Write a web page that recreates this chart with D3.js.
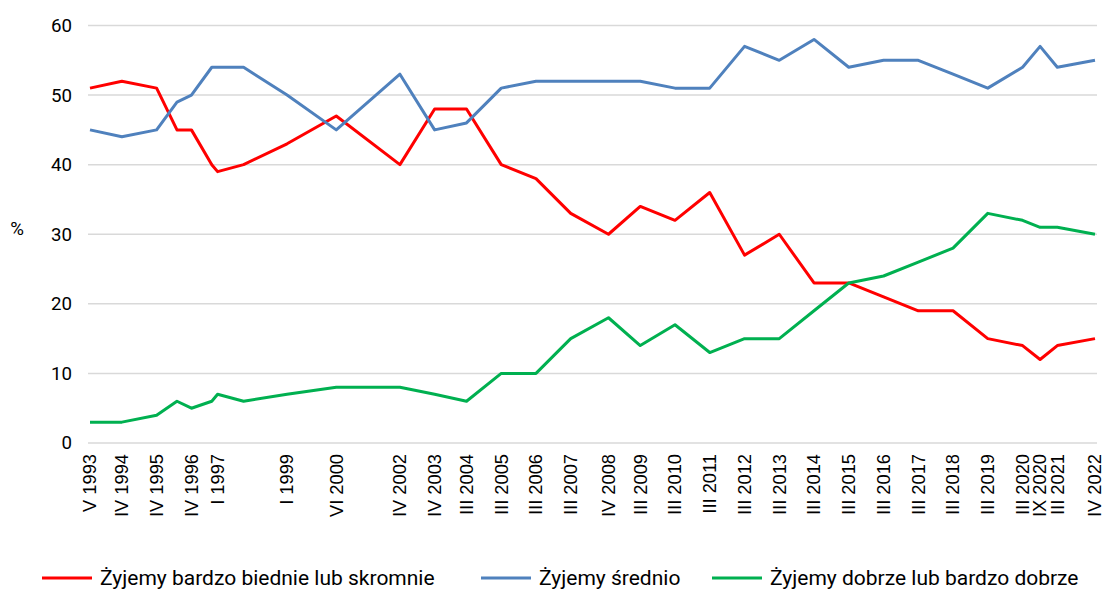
<!DOCTYPE html>
<html>
<head>
<meta charset="utf-8">
<script src="https://cdn.jsdelivr.net/npm/d3@7"></script>
<style>
  body { margin: 0; background: #fff; }
  svg { display: block; }
</style>
</head>
<body>
<svg id="chart" width="1104" height="591"></svg>
<script>
// survey dates (roman month + year), also used as axis labels
var surveys = ['V 1993', 'IV 1994', 'IV 1995', 'XI 1995', 'IV 1996', 'XI 1996', 'I 1997', 'X 1997', 'I 1999', 'VI 2000',
  'IV 2002', 'IV 2003', 'III 2004', 'III 2005', 'III 2006', 'III 2007', 'IV 2008', 'III 2009', 'III 2010', 'III 2011',
  'III 2012', 'III 2013', 'III 2014', 'III 2015', 'III 2016', 'III 2017', 'III 2018', 'III 2019', 'III 2020', 'IX 2020',
  'III 2021', 'IV 2022']
// surveys without a label on the axis
var unlabeled = ['XI 1995', 'XI 1996', 'X 1997']

var poor = [51, 52, 51, 45, 45, 40, 39, 40, 43, 47, 40, 48, 48, 40, 38, 33, 30, 34, 32, 36, 27, 30, 23, 23, 21, 19, 19, 15, 14, 12, 14, 15]
var average = [45, 44, 45, 49, 50, 54, 54, 54, 50, 45, 53, 45, 46, 51, 52, 52, 52, 52, 51, 51, 57, 55, 58, 54, 55, 55, 53, 51, 54, 57, 54, 55]
var good = [3, 3, 4, 6, 5, 6, 7, 6, 7, 8, 8, 7, 6, 10, 10, 15, 18, 14, 17, 13, 15, 15, 19, 23, 24, 26, 28, 33, 32, 31, 31, 30]

var seriesNames = ['Żyjemy bardzo biednie lub skromnie', 'Żyjemy średnio', 'Żyjemy dobrze lub bardzo dobrze']
var yTicks = [0, 10, 20, 30, 40, 50, 60]

var colors = ['#FF0000', '#4F81BD', '#00B050']
var romans = ['I', 'II', 'III', 'IV', 'V', 'VI', 'VII', 'VIII', 'IX', 'X', 'XI', 'XII']

function toDate (s) {
  var p = s.split(' ')
  return new Date(+p[1], romans.indexOf(p[0]), 1)
}

var svg = d3.select('#chart')
var dates = surveys.map(toDate)

var x = d3.scaleTime().domain([dates[0], dates[dates.length - 1]]).range([90, 1095])
var y = d3.scaleLinear().domain([0, 60]).range([443, 25.5])

/** gridlines */
svg.append('g').selectAll('line').data(yTicks).enter().append('line')
  .attr('x1', 88).attr('x2', 1097)
  .attr('y1', function (d) { return y(d) }).attr('y2', function (d) { return y(d) })
  .style('stroke', '#D9D9D9').style('stroke-width', 1.5)

/** y axis labels */
var yAxis = d3.axisLeft(y).tickValues(yTicks).tickSize(0).tickPadding(0)
var gy = svg.append('g').attr('transform', 'translate(72,0)').call(yAxis)
gy.select('.domain').remove()
gy.selectAll('text').style('font-family', 'Roboto').style('font-size', '18.7px').style('fill', '#000')

svg.append('text').attr('x', 17).attr('y', y(30) - 6).attr('dy', '0.35em')
  .attr('text-anchor', 'middle')
  .style('font-family', 'Roboto').style('font-size', '18.7px').text('%')

/** x axis labels (rotated) */
var labeled = surveys.filter(function (s) { return unlabeled.indexOf(s) < 0 })
var xAxis = d3.axisBottom(x).tickValues(labeled.map(toDate))
  .tickFormat(function (d, i) { return labeled[i] }).tickSize(0).tickPadding(0)
var gx = svg.append('g').attr('transform', 'translate(0,454)').call(xAxis)
gx.select('.domain').remove()
gx.selectAll('text')
  .attr('transform', 'rotate(-90)')
  .attr('x', 0).attr('y', 0).attr('dy', '0.32em')
  .attr('text-anchor', 'end')
  .style('font-family', 'Liberation Sans, Arial').style('font-size', '18.3px').style('fill', '#000')

/** lines */
var line = d3.line()
  .x(function (d, i) { return x(dates[i]) })
  .y(function (d) { return y(d) })

var series = [poor, average, good]
for (var j = 0; j < series.length; j++) {
  svg.append('path').attr('d', line(series[j]))
    .style('fill', 'none').style('stroke', colors[j]).style('stroke-width', 3)
    .style('stroke-linejoin', 'round')
}

/** legend */
var legendX = [42, 481, 712]
var legend = svg.append('g').selectAll('g').data(seriesNames).enter().append('g')
  .attr('transform', function (d, i) { return 'translate(' + legendX[i] + ',578)' })
legend.append('line').attr('x1', 0).attr('x2', 50).attr('y1', 0).attr('y2', 0)
  .style('stroke', function (d, i) { return colors[i] }).style('stroke-width', 3)
legend.append('text').attr('x', 58).attr('dy', '0.35em')
  .style('font-family', 'Roboto').style('font-size', '21px').style('fill', '#000')
  .text(function (d) { return d })
</script>
</body>
</html>
